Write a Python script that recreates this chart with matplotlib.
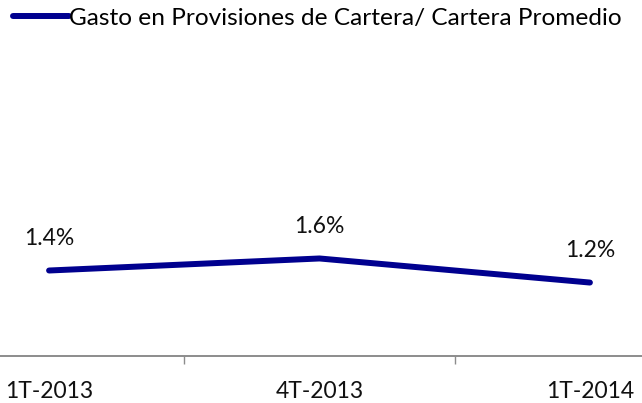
import matplotlib.pyplot as plt
from matplotlib.ticker import FixedLocator, NullFormatter

# data
periodos = ['1T-2013', '4T-2013', '1T-2014']
gasto_provisiones = [0.014, 0.016, 0.012]
serie_nombre = 'Gasto en Provisiones de Cartera/ Cartera Promedio'

plt.rcParams['font.family'] = ['Lato', 'DejaVu Sans']
fs = 16.5

fig = plt.figure(figsize=(6.42, 4.03), dpi=100)
ax = fig.add_axes([0, 47 / 403, 1, 295 / 403])

x = range(len(periodos))
line, = ax.plot(x, gasto_provisiones, color='#00008F', lw=4.3,
                solid_capstyle='round', solid_joinstyle='round',
                label=serie_nombre)

for xi, v in zip(x, gasto_provisiones):
    ax.annotate(f'{v*100:.1f}%', (xi, v), xytext=(0, 23),
                textcoords='offset points', ha='center', va='center',
                fontsize=fs, color='#111111')

ax.set_xlim(-49 / 270, 2 + 52 / 270)
ax.set_ylim(-0.0002, 0.0488)

for s in ['top', 'right', 'left']:
    ax.spines[s].set_visible(False)
ax.spines['bottom'].set_color('#8c8c8c')
ax.spines['bottom'].set_linewidth(1.4)

ax.set_yticks([])
ax.set_xticks(list(x))
ax.set_xticklabels(periodos, fontsize=fs, color='#111111')
ax.tick_params(axis='x', which='major', length=0, pad=18)
ax.xaxis.set_minor_locator(FixedLocator([0.5, 1.5]))
ax.xaxis.set_minor_formatter(NullFormatter())
ax.tick_params(axis='x', which='minor', length=6, color='#8c8c8c', width=1)

fig.legend(handles=[line], loc='center left', bbox_to_anchor=(13 / 642, 1 - 18 / 403),
           frameon=False, fontsize=17.6, handlelength=2.3, handletextpad=0.0,
           borderaxespad=0, borderpad=0)

fig.savefig('out.png', dpi=100)
